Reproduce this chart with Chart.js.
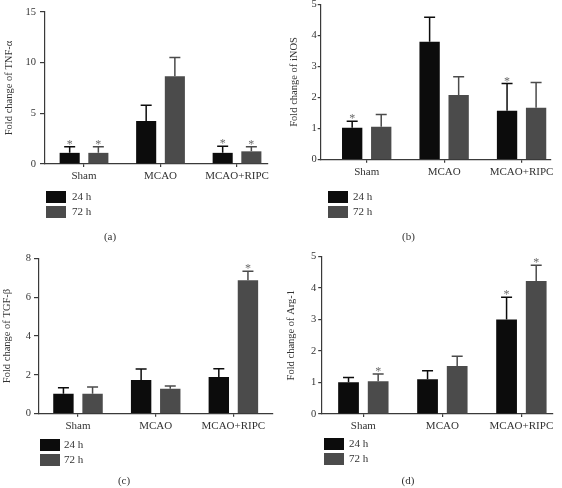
<!DOCTYPE html>
<html>
<head>
<meta charset="utf-8">
<script src="https://cdn.jsdelivr.net/npm/chart.js@4.4.1/dist/chart.umd.min.js"></script>
<style>
  body { margin: 0; background: #fff; }
  #wrap { position: relative; width: 562px; height: 488px; }
  .panel { position: absolute; width: 281px; height: 244px; }
</style>
</head>
<body>
<div id="wrap">
  <div class="panel" style="left:0;top:0"><canvas id="chartA" width="281" height="244"></canvas></div>
  <div class="panel" style="left:281px;top:0"><canvas id="chartB" width="281" height="244"></canvas></div>
  <div class="panel" style="left:0;top:244px"><canvas id="chartC" width="281" height="244"></canvas></div>
  <div class="panel" style="left:281px;top:244px"><canvas id="chartD" width="281" height="244"></canvas></div>
</div>
<script>
const groups = ['Sham', 'MCAO', 'MCAO+RIPC'];
const timeLabels = ['24 h', '72 h'];

// (a) TNF-α
const tnf24 = [1.1, 4.25, 1.1];
const tnf24Err = [0.6, 1.55, 0.65];
const tnf24Star = [true, false, true];
const tnf72 = [1.1, 8.65, 1.25];
const tnf72Err = [0.6, 1.85, 0.45];
const tnf72Star = [true, false, true];

// (b) iNOS
const inos24 = [1.03, 3.79, 1.57];
const inos24Err = [0.21, 0.79, 0.88];
const inos24Star = [true, false, true];
const inos72 = [1.06, 2.08, 1.67];
const inos72Err = [0.39, 0.59, 0.81];
const inos72Star = [false, false, false];

// (c) TGF-β
const tgf24 = [1.03, 1.74, 1.89];
const tgf24Err = [0.3, 0.56, 0.42];
const tgf24Star = [false, false, false];
const tgf72 = [1.03, 1.29, 6.87];
const tgf72Err = [0.34, 0.14, 0.46];
const tgf72Star = [false, false, true];

// (d) Arg-1
const arg24 = [1.01, 1.1, 3.0];
const arg24Err = [0.15, 0.27, 0.7];
const arg24Star = [false, false, true];
const arg72 = [1.04, 1.52, 4.22];
const arg72Err = [0.23, 0.31, 0.5];
const arg72Star = [true, false, true];

const COLOR_24 = '#0c0c0c';
const COLOR_72 = '#4b4b4b';
const AXIS = '#3a3a3a';
const TEXT = '#333';
const SERIF = '"Liberation Serif", "DejaVu Serif", serif';

// error bars, asterisks, legend and caption
const extrasPlugin = {
    id: 'extras',
    afterDatasetsDraw(chart) {
        const ctx = chart.ctx;
        const yScale = chart.scales.y;
        chart.data.datasets.forEach((ds, i) => {
            const meta = chart.getDatasetMeta(i);
            meta.data.forEach((bar, j) => {
                const top = yScale.getPixelForValue(ds.data[j].y + ds.err[j]);
                ctx.save();
                ctx.strokeStyle = ds.backgroundColor;
                ctx.lineWidth = 1.5;
                ctx.beginPath();
                ctx.moveTo(bar.x, bar.y);
                ctx.lineTo(bar.x, top);
                ctx.moveTo(bar.x - 5.5, top);
                ctx.lineTo(bar.x + 5.5, top);
                ctx.stroke();
                if (ds.stars[j]) {
                    ctx.fillStyle = '#6a6a6a';
                    ctx.font = '12px ' + SERIF;
                    ctx.textAlign = 'center';
                    ctx.textBaseline = 'alphabetic';
                    ctx.fillText('*', bar.x, top + 1);
                }
                ctx.restore();
            });
        });
    },
    afterDraw(chart) {
        const o = chart.options.plugins.extras;
        const ctx = chart.ctx;
        ctx.save();
        ctx.font = '11px ' + SERIF;
        ctx.textBaseline = 'middle';
        chart.data.datasets.forEach((ds, i) => {
            const y = o.legendY + i * 15;
            ctx.fillStyle = ds.backgroundColor;
            ctx.fillRect(o.legendX, y, 20, 12);
            ctx.fillStyle = TEXT;
            ctx.textAlign = 'left';
            ctx.fillText(ds.label, o.legendTextX, y + 6.5);
        });
        ctx.textAlign = 'center';
        ctx.fillText(o.caption, o.captionX, o.captionY);
        ctx.restore();
    }
};

function makeChart(id, p) {
    const ctx = document.getElementById(id).getContext('2d');
    return new Chart(ctx, {
        type: 'bar',
        data: {
            datasets: [
                {
                    label: timeLabels[0],
                    data: p.mean24.map((v, i) => ({x: i + 1, y: v})),
                    err: p.err24,
                    stars: p.star24,
                    backgroundColor: COLOR_24
                },
                {
                    label: timeLabels[1],
                    data: p.mean72.map((v, i) => ({x: i + 1, y: v})),
                    err: p.err72,
                    stars: p.star72,
                    backgroundColor: COLOR_72
                }
            ]
        },
        options: {
            responsive: false,
            animation: false,
            categoryPercentage: 0.75,
            barPercentage: 0.7,
            layout: {
                padding: {left: 0, top: p.top, right: p.right, bottom: p.bottom}
            },
            plugins: {
                legend: {display: false},
                tooltip: {enabled: false},
                extras: p.extras
            },
            scales: {
                x: {
                    type: 'linear',
                    min: p.xMin,
                    max: p.xMax,
                    offset: false,
                    afterBuildTicks(s) {
                        s.ticks = groups.map((g, i) => ({value: i + 1}));
                    },
                    afterFit(s) {
                        s.height = 20;
                        s.paddingLeft = 0;
                        s.paddingRight = 0;
                    },
                    ticks: {
                        autoSkip: false,
                        maxRotation: 0,
                        padding: 3,
                        color: TEXT,
                        font: {family: SERIF, size: 11},
                        callback: v => groups[v - 1]
                    },
                    grid: {offset: false, drawOnChartArea: false, tickLength: 3, color: AXIS, lineWidth: 1.2},
                    border: {color: AXIS, width: 1.2}
                },
                y: {
                    min: 0,
                    max: p.yMax,
                    afterFit(s) {
                        s.width = p.axisX;
                        s.paddingTop = 0;
                        s.paddingBottom = 0;
                    },
                    ticks: {
                        stepSize: p.step,
                        padding: p.tickPad,
                        color: TEXT,
                        font: {family: SERIF, size: 10.5}
                    },
                    grid: {drawOnChartArea: false, tickLength: p.tickLen, color: AXIS, lineWidth: 1.2},
                    border: {color: AXIS, width: 1.2},
                    title: {
                        display: true,
                        text: p.title,
                        color: TEXT,
                        font: {family: SERIF, size: 10.5},
                        padding: {top: p.titlePad, bottom: 0}
                    }
                }
            }
        },
        plugins: [extrasPlugin]
    });
}

makeChart('chartA', {
    mean24: tnf24, err24: tnf24Err, star24: tnf24Star,
    mean72: tnf72, err72: tnf72Err, star72: tnf72Star,
    title: 'Fold change of TNF-α', yMax: 15, step: 5,
    axisX: 45, top: 12, right: 13, bottom: 60,
    xMin: 0.49, xMax: 3.405, tickLen: 5, tickPad: 4, titlePad: 2.5,
    extras: {legendX: 46, legendY: 191, legendTextX: 72, caption: '(a)', captionX: 110, captionY: 237}
});

makeChart('chartB', {
    mean24: inos24, err24: inos24Err, star24: inos24Star,
    mean72: inos72, err72: inos72Err, star72: inos72Star,
    title: 'Fold change of iNOS', yMax: 5, step: 1,
    axisX: 39.7, top: 4.2, right: 11, bottom: 64.3,
    xMin: 0.406, xMax: 3.38, tickLen: 3, tickPad: 1, titlePad: 6.5,
    extras: {legendX: 47, legendY: 191, legendTextX: 72, caption: '(b)', captionX: 127.5, captionY: 237}
});

makeChart('chartC', {
    mean24: tgf24, err24: tgf24Err, star24: tgf24Star,
    mean72: tgf72, err72: tgf72Err, star72: tgf72Star,
    title: 'Fold change of TGF-β', yMax: 8, step: 2,
    axisX: 39, top: 14.3, right: 8, bottom: 54.3,
    xMin: 0.498, xMax: 3.51, tickLen: 5, tickPad: 3, titlePad: 1,
    extras: {legendX: 40, legendY: 195, legendTextX: 64, caption: '(c)', captionX: 124, captionY: 237}
});

makeChart('chartD', {
    mean24: arg24, err24: arg24Err, star24: arg24Star,
    mean72: arg72, err72: arg72Err, star72: arg72Star,
    title: 'Fold change of Arg-1', yMax: 5, step: 1,
    axisX: 40.7, top: 12.3, right: 9, bottom: 54,
    xMin: 0.473, xMax: 3.4, tickLen: 3.5, tickPad: 2, titlePad: 4,
    extras: {legendX: 43, legendY: 194, legendTextX: 68, caption: '(d)', captionX: 127, captionY: 237}
});
</script>
</body>
</html>
